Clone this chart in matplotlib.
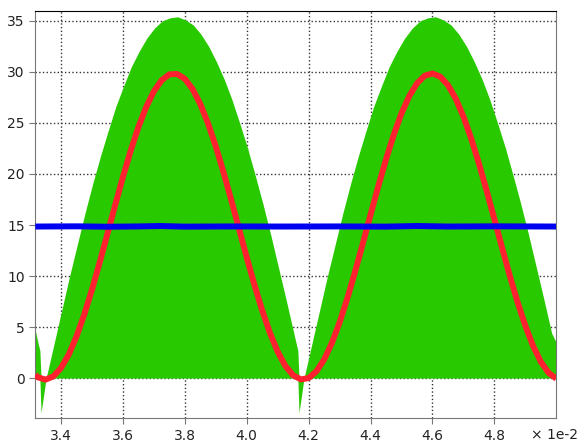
import numpy as np
import matplotlib.pyplot as plt

# time axis values are in units of 1e-2 s
# switching power envelope (green band): one hump every half cycle
hump_t1 = np.round(3.352 + 0.025 * np.arange(33), 4)
hump_t2 = np.round(4.185 + 0.025 * np.arange(33), 4)
hump_p = [0.0, 3.3, 6.6, 9.9, 13.0, 16.1, 19.0, 21.7, 24.2, 26.6,
          28.6, 30.5, 32.0, 33.3, 34.3, 35.0, 35.3, 35.4, 35.1, 34.6,
          33.7, 32.5, 31.0, 29.3, 27.3, 25.0, 22.6, 19.9, 17.1, 14.1,
          10.9, 7.7, 4.4]

# edges around the zero crossings (tail of previous hump, dip below zero)
tail0_t, tail0_hi, tail0_lo = [3.317, 3.3245, 3.3317, 3.3355], [4.7, 3.6, 2.7, 0.0], [0.0, 0.0, 0.0, -3.4]
tail1_t, tail1_hi, tail1_lo = [4.165, 4.1688], [2.7, 0.0], [0.0, -3.4]
tail2_t, tail2_hi, tail2_lo = [4.998], [3.6], [0.0]

green_t = np.concatenate([tail0_t, hump_t1, tail1_t, hump_t2, tail2_t])
green_hi = np.concatenate([tail0_hi, hump_p, tail1_hi, hump_p, tail2_hi])
green_lo = np.concatenate([tail0_lo, np.zeros(33), tail1_lo, np.zeros(33), tail2_lo])

# instantaneous power (red)
red_t = np.concatenate([[3.317], np.round(np.arange(3.325, 5.0001, 0.025), 3)])
red_p = [0.35, 0.08, -0.15, 0.16, 0.99, 2.31, 4.08, 6.22, 8.67, 11.34,
         14.13, 16.95, 19.70, 22.27, 24.59, 26.55, 28.10, 29.18, 29.76, 29.80,
         29.32, 28.32, 26.85, 24.95, 22.70, 20.16, 17.44, 14.63, 11.82, 9.12,
         6.62, 4.42, 2.58, 1.18, 0.27, -0.13, 0.00, 0.66, 1.82, 3.44,
         5.46, 7.82, 10.43, 13.19, 16.02, 18.80, 21.44, 23.85, 25.94, 27.63,
         28.88, 29.63, 29.85, 29.54, 28.71, 27.39, 25.62, 23.48, 21.03, 18.36,
         15.57, 12.75, 10.00, 7.43, 5.12, 3.15, 1.60, 0.52, -0.06]

# average power (blue)
blue_t = [3.317, 3.45, 3.55, 3.65, 3.72, 3.80, 3.95, 4.10, 4.30, 4.45, 4.55, 4.65, 4.80, 5.0]
blue_p = [14.85, 14.87, 14.83, 14.86, 14.9, 14.84, 14.86, 14.85, 14.86, 14.84, 14.9, 14.85, 14.87, 14.85]

fig = plt.figure(figsize=(5.79, 4.45), dpi=100)
ax = fig.add_axes([0.061, 0.06, 0.8998, 0.916])

ax.fill_between(green_t, green_lo, green_hi, color='#29c900', lw=0, zorder=2)
ax.plot(red_t, red_p, color='#ff2030', lw=4.3, solid_capstyle='butt', zorder=3)
ax.plot(blue_t, blue_p, color='#0000f0', lw=4.3, solid_capstyle='butt', zorder=4)

ax.set_xlim(3.317, 5.0)
ax.set_ylim(-3.94, 36)
ax.set_xticks([3.4, 3.6, 3.8, 4.0, 4.2, 4.4, 4.6, 4.8])
ax.set_yticks([0, 5, 10, 15, 20, 25, 30, 35])
ax.grid(True, linestyle=':', color='#333333', lw=1, zorder=1)
ax.set_axisbelow(True)

for side in ['left', 'bottom', 'right']:
    ax.spines[side].set_color('#777777')
ax.spines['top'].set_color('black')
ax.tick_params(direction='out', length=4, color='#777777', labelsize=10, labelcolor='#222222')

fig.text(0.998, 1 - 435 / 445, '\u00d7 1e-2', ha='right', va='center', fontsize=10, color='#222222')

fig.savefig('out.png', dpi=100)
